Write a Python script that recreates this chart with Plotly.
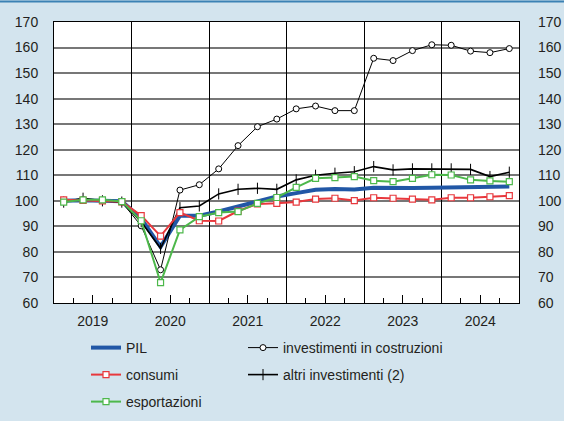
import plotly.graph_objects as go

years = ['2019', '2020', '2021', '2022', '2023', '2024']
quarters = [i + 0.5 for i in range(24)]

pil = [100, 100.2, 100, 99.8, 93, 82, 94.2, 94.2, 95.8, 97.7, 100, 101.7,
       103, 104.3, 104.6, 104.4, 105.1, 104.9, 105, 105.1, 105.3, 105.4, 105.5, 105.6]
costruzioni = [100, 100.5, 100, 99.5, 90.2, 73, 104.2, 106.3, 112.5, 121.6, 129, 132,
               136, 137.1, 135.3, 135.3, 155.8, 154.9, 158.8, 161.1, 160.9, 158.6, 158, 159.6]
consumi = [100.4, 100.2, 100, 99.6, 94.2, 86.2, 95.4, 92.2, 92.1, 96, 98.8, 99,
           99.5, 100.7, 101, 100.1, 101.2, 101, 100.7, 100.4, 101.2, 101.2, 101.6, 102]
altri = [99.5, 101, 100, 99.5, 91.8, 81.4, 97.3, 98, 102.7, 104.5, 104.9, 104.5,
         108.2, 110, 110.8, 111.4, 113.4, 112.1, 112.5, 112.5, 112.5, 112.3, 109.5, 111.2]
esportazioni = [99.5, 100.4, 100.4, 99.7, 92.2, 68, 88.6, 93.8, 95.4, 95.8, 99, 101.3,
                105.3, 108.8, 109.1, 109.5, 107.9, 107.5, 108.8, 110.2, 110.1, 108.2, 107.8, 107.5]

FONT = 'Liberation Sans, Arial, sans-serif'
BG = '#d3e4ee'

fig = go.Figure()

fig.add_trace(go.Scatter(
    x=quarters, y=pil, name='PIL', mode='lines',
    line=dict(color='#2157a6', width=4),
    legend='legend'))
fig.add_trace(go.Scatter(
    x=quarters, y=costruzioni, name='investimenti in costruzioni', mode='lines+markers',
    line=dict(color='black', width=1),
    marker=dict(symbol='circle', size=6, color='white', line=dict(color='black', width=1)),
    legend='legend4'))
fig.add_trace(go.Scatter(
    x=quarters, y=altri, name='altri investimenti (2)', mode='lines+markers',
    line=dict(color='black', width=1.6),
    marker=dict(symbol='line-ns', size=8, color='black', line=dict(color='black', width=1)),
    legend='legend5'))
fig.add_trace(go.Scatter(
    x=quarters, y=consumi, name='consumi', mode='lines+markers',
    line=dict(color='#e8383d', width=2),
    marker=dict(symbol='square', size=6, color='white', line=dict(color='#e8383d', width=1.2)),
    legend='legend2'))
fig.add_trace(go.Scatter(
    x=quarters, y=esportazioni, name='esportazioni', mode='lines+markers',
    line=dict(color='#4db84b', width=2),
    marker=dict(symbol='square', size=6, color='white', line=dict(color='#4db84b', width=1.2)),
    legend='legend3'))

# invisible trace to carry the overlay axes
fig.add_trace(go.Scatter(x=[0, 24], y=[60, 170], xaxis='x2', yaxis='y2', mode='none',
                         showlegend=False, hoverinfo='skip'))

leg = dict(xanchor='left', yanchor='middle', xref='container', yref='container',
           bgcolor='rgba(0,0,0,0)', font=dict(family=FONT, size=14, color='#231f20'))
x1 = 86 / 564
x2 = 243 / 564
r1, r2, r3 = 1 - 348 / 421, 1 - 375 / 421, 1 - 402 / 421

fig.update_layout(
    width=564, height=421,
    paper_bgcolor=BG, plot_bgcolor='white',
    margin=dict(l=54, r=45, t=22, b=118, autoexpand=False),
    font=dict(family=FONT, size=14, color='#231f20'),
    xaxis=dict(range=[0, 24], tickvals=[2, 6, 10, 14, 18, 22], ticktext=years,
               showgrid=False, zeroline=False, ticks='inside', ticklen=8, tickcolor='black',
               minor=dict(dtick=1, tick0=0, ticks='inside', ticklen=5, tickcolor='black'),
               showline=True, linecolor='black', linewidth=1, mirror=True,
               ticklabelstandoff=5),
    xaxis2=dict(range=[0, 24], overlaying='x', tickvals=[0, 4, 8, 12, 16, 20, 24],
                showgrid=True, gridcolor='black', gridwidth=1, showticklabels=False,
                ticks='', zeroline=False),
    yaxis=dict(range=[60, 170], dtick=10, showgrid=True, gridcolor='#777777', gridwidth=1.5,
               zeroline=False, ticks='', showline=True, linecolor='black', mirror=True,
               ticklabelstandoff=12),
    yaxis2=dict(range=[60, 170], dtick=10, overlaying='y', side='right', showgrid=False,
                zeroline=False, ticks='', ticklabelstandoff=18, anchor='x2'),
    legend=dict(leg, x=x1, y=r1),
    legend2=dict(leg, x=x1, y=r2),
    legend3=dict(leg, x=x1, y=r3),
    legend4=dict(leg, x=x2, y=r1),
    legend5=dict(leg, x=x2, y=r2),
    shapes=[dict(type='line', xref='paper', yref='paper', x0=-0.2, x1=1.2,
                 y0=1 + 20.5 / 281, y1=1 + 20.5 / 281, line=dict(color='#3c82b4', width=2))],
)

fig.write_html('out.html', config={'displayModeBar': False},
               post_script="document.body.style.margin='0';")
